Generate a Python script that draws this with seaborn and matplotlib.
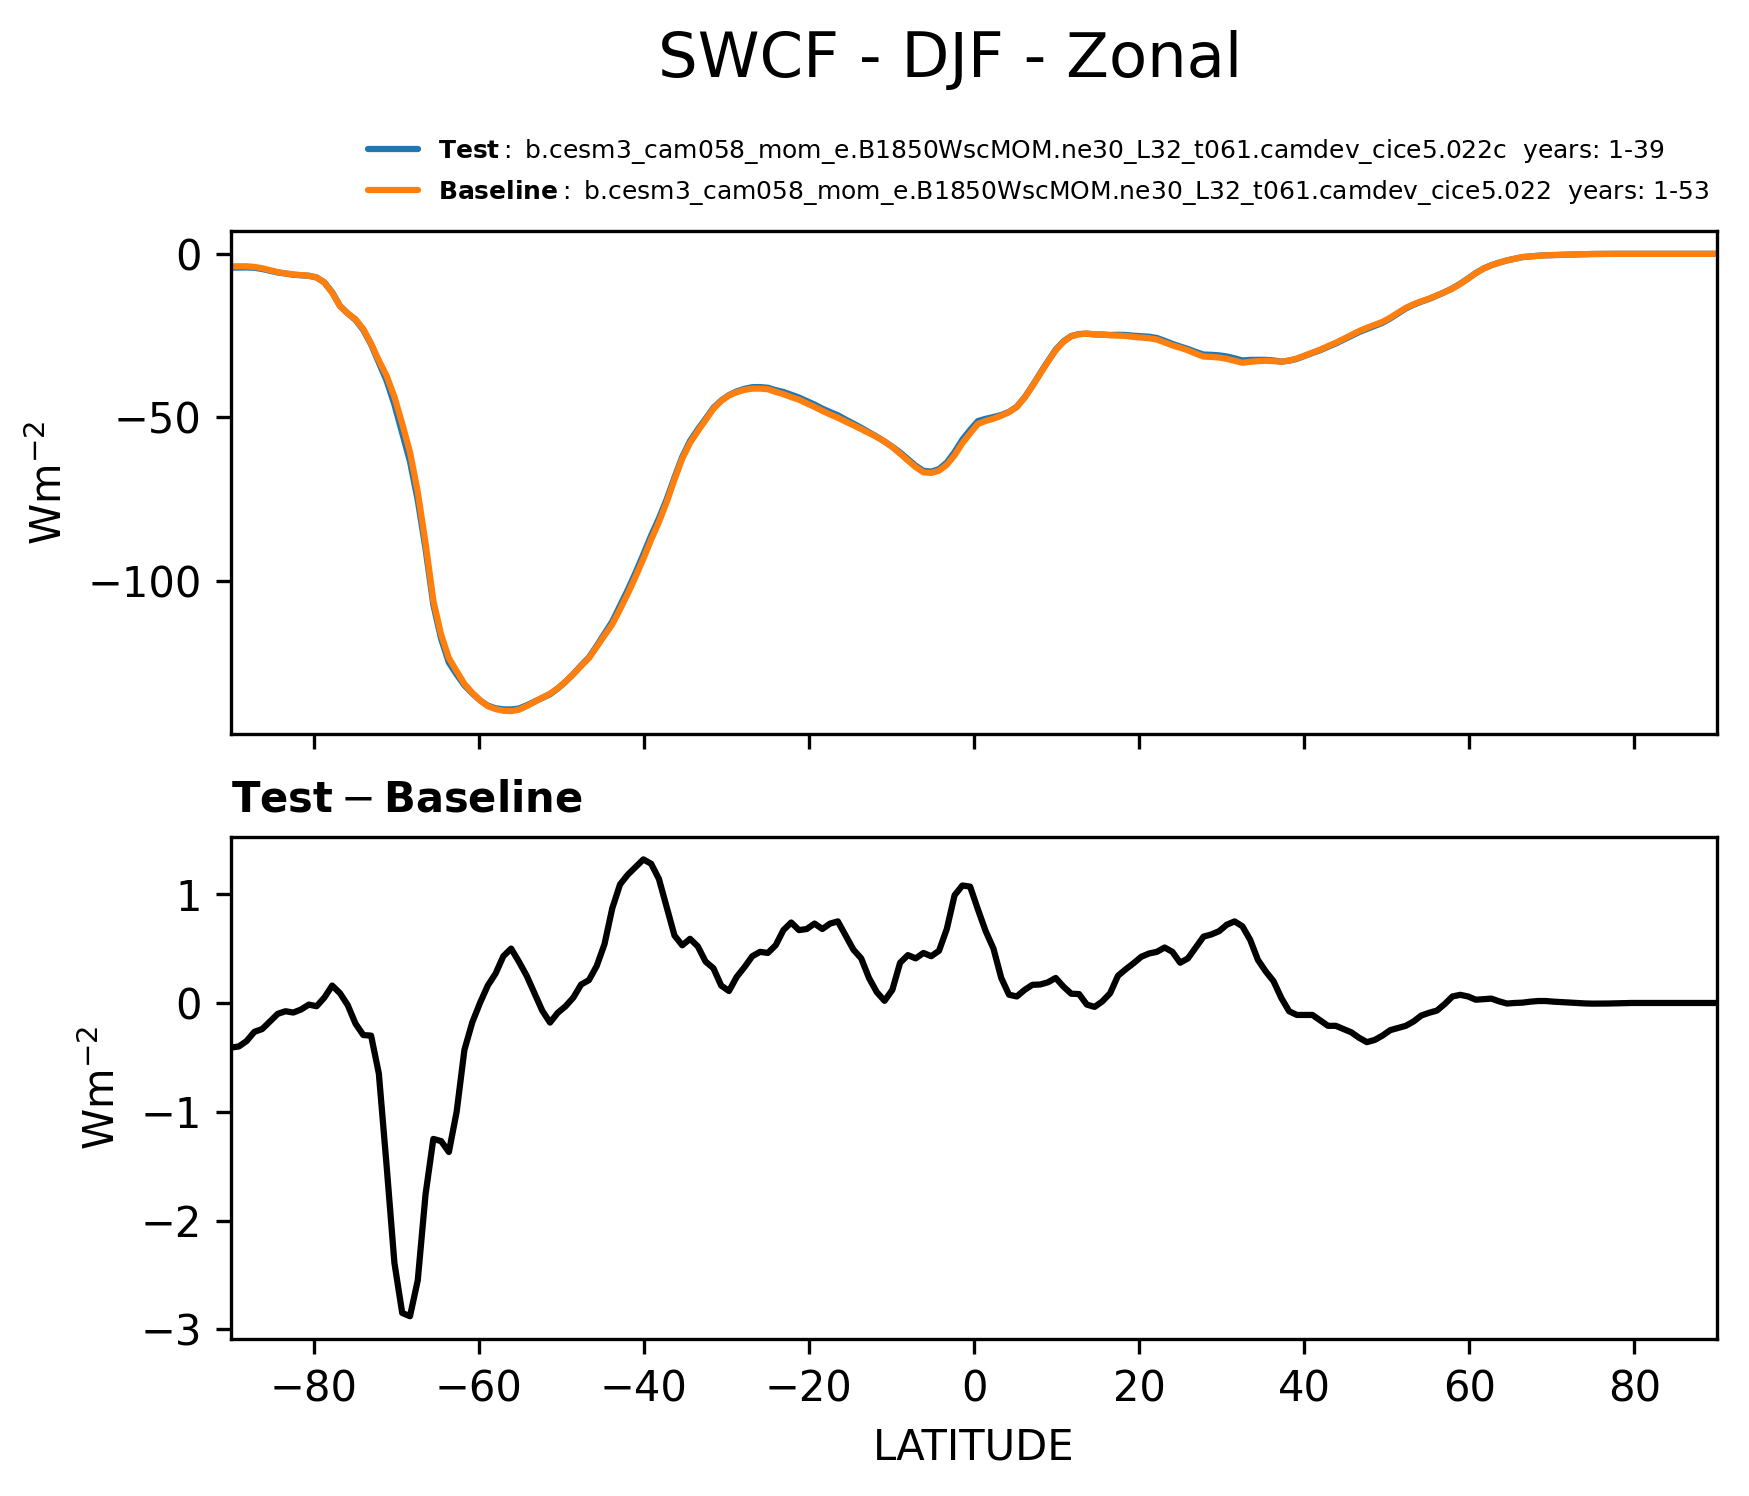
import numpy as np
import matplotlib
matplotlib.use("Agg")
import matplotlib.pyplot as plt
import seaborn as sns

# latitude grid of the zonal means (192 points pole to pole)
lat = np.linspace(-90, 90, 192)

# baseline SWCF zonal mean (W m-2)
base_vals = [
    -3.8, -3.8, -3.8, -4.0, -4.4, -5.0, -5.6, -5.95, -6.3, -6.5,
    -6.7, -7.2, -8.8, -11.9, -16.0, -18.2, -20.0, -23.0, -27.4, -32.6,
    -37.3, -43.7, -51.9, -60.6, -72.8, -88.4, -106.0, -116.4, -123.6, -127.6,
    -131.5, -134.2, -136.5, -138.3, -139.2, -139.7, -139.8, -139.4, -138.3, -137.0,
    -135.7, -134.5, -132.8, -130.8, -128.5, -126.0, -123.6, -120.2, -116.7, -113.3,
    -108.7, -103.9, -98.7, -93.2, -87.4, -82.0, -75.9, -69.0, -62.6, -57.8,
    -54.2, -50.8, -47.4, -45.0, -43.3, -42.3, -41.6, -41.2, -41.2, -41.4,
    -42.2, -42.9, -43.8, -44.6, -45.7, -46.8, -48.0, -49.1, -50.1, -51.3,
    -52.4, -53.6, -54.8, -56.0, -57.4, -59.1, -61.1, -63.2, -65.2, -66.8,
    -67.0, -66.3, -64.5, -61.6, -57.9, -54.9, -52.0, -51.1, -50.4, -49.5,
    -48.4, -46.8, -44.0, -40.5, -36.7, -33.0, -29.5, -26.9, -25.2, -24.6,
    -24.4, -24.6, -24.7, -24.9, -25.0, -25.1, -25.4, -25.6, -25.8, -26.2,
    -27.1, -28.0, -28.7, -29.5, -30.5, -31.4, -31.5, -31.7, -32.1, -32.7,
    -33.3, -33.0, -32.8, -32.7, -32.8, -33.0, -32.6, -32.0, -31.1, -30.2,
    -29.3, -28.2, -27.2, -26.0, -24.8, -23.6, -22.6, -21.7, -20.8, -19.5,
    -18.0, -16.5, -15.4, -14.5, -13.7, -12.7, -11.7, -10.6, -9.2, -7.6,
    -5.9, -4.5, -3.5, -2.7, -2.0, -1.5, -1.0, -0.8, -0.6, -0.45,
    -0.38, -0.3, -0.22, -0.15, -0.08, -0.04, -0.02, -0.01, 0.0, 0.0,
    0.0, 0.0, 0.0, 0.0, 0.0, 0.0, 0.0, 0.0, 0.0, 0.0,
    0.0, 0.0,
]

# test minus baseline (W m-2)
diff_vals = [
    -0.41, -0.40, -0.35, -0.265, -0.24, -0.17, -0.10, -0.076, -0.088, -0.06,
    -0.015, -0.03, 0.05, 0.16, 0.09, -0.02, -0.19, -0.295, -0.30, -0.65,
    -1.5, -2.39, -2.85, -2.88, -2.55, -1.76, -1.25, -1.27, -1.37, -1.00,
    -0.43, -0.18, 0.0, 0.16, 0.27, 0.43, 0.50, 0.38, 0.25, 0.09,
    -0.07, -0.18, -0.09, -0.03, 0.05, 0.17, 0.21, 0.34, 0.54, 0.87,
    1.09, 1.18, 1.25, 1.32, 1.28, 1.14, 0.88, 0.62, 0.53, 0.59,
    0.52, 0.38, 0.32, 0.16, 0.11, 0.24, 0.33, 0.43, 0.47, 0.46,
    0.53, 0.67, 0.74, 0.67, 0.68, 0.73, 0.68, 0.73, 0.75, 0.62,
    0.49, 0.41, 0.23, 0.10, 0.02, 0.12, 0.37, 0.44, 0.41, 0.46,
    0.43, 0.48, 0.68, 0.99, 1.08, 1.07, 0.86, 0.66, 0.50, 0.23,
    0.076, 0.06, 0.12, 0.167, 0.17, 0.19, 0.23, 0.15, 0.085, 0.082,
    -0.015, -0.036, 0.015, 0.09, 0.25, 0.31, 0.365, 0.425, 0.455, 0.47,
    0.51, 0.47, 0.37, 0.41, 0.51, 0.61, 0.63, 0.66, 0.72, 0.75,
    0.705, 0.58, 0.395, 0.29, 0.20, 0.046, -0.076, -0.11, -0.11, -0.11,
    -0.16, -0.21, -0.21, -0.24, -0.27, -0.32, -0.36, -0.34, -0.30, -0.25,
    -0.23, -0.21, -0.17, -0.115, -0.09, -0.07, -0.01, 0.06, 0.075, 0.06,
    0.03, 0.035, 0.04, 0.015, -0.005, 0.0, 0.003, 0.012, 0.018, 0.018,
    0.012, 0.008, 0.004, 0.0, -0.004, -0.006, -0.006, -0.005, -0.003, -0.001,
    0.0, 0.0, 0.0, 0.0, 0.0, 0.0, 0.0, 0.0, 0.0, 0.0,
    0.0, 0.0,
]

test_vals = np.array(base_vals) + np.array(diff_vals)

test_case = "b.cesm3_cam058_mom_e.B1850WscMOM.ne30_L32_t061.camdev_cice5.022c"
base_case = "b.cesm3_cam058_mom_e.B1850WscMOM.ne30_L32_t061.camdev_cice5.022"
test_years = "1-39"
base_years = "1-53"

sns.set_style("ticks", {"axes.edgecolor": "black", "xtick.color": "black",
                        "ytick.color": "black", "text.color": "black",
                        "axes.labelcolor": "black"})
plt.rcParams["font.family"] = ["DejaVu Sans"]

fig = plt.figure(figsize=(1749 / 300, 1496 / 300), dpi=300)
ax1 = fig.add_axes([0.1321, 0.5094, 0.8496, 0.3362])
ax2 = fig.add_axes([0.1321, 0.1049, 0.8496, 0.3359], sharex=ax1)

sns.lineplot(x=lat, y=test_vals, ax=ax1, color="#1f77b4", lw=1.5,
             label=r"$\mathbf{Test}:$ " + test_case + "  years: " + test_years)
sns.lineplot(x=lat, y=base_vals, ax=ax1, color="#ff7f0e", lw=1.5,
             label=r"$\mathbf{Baseline}:$ " + base_case + "  years: " + base_years)
sns.lineplot(x=lat, y=diff_vals, ax=ax2, color="black", lw=1.5)

handles, labels = ax1.get_legend_handles_labels()
ax1.get_legend().remove()
fig.legend(handles, labels, loc="upper left", bbox_to_anchor=(0.1978, 0.9237),
           frameon=False, fontsize=6)

ax1.set_xlim(-90, 90)
ax1.set_xticks(range(-80, 81, 20))
ax1.tick_params(labelbottom=False)
ax1.set_yticks([-100, -50, 0])
ax1.set_ylabel("Wm$^{-2}$")

ax2.set_yticks([-3, -2, -1, 0, 1])
ax2.set_ylabel("Wm$^{-2}$")
ax2.set_xlabel("LATITUDE")
ax2.set_title(r"$\mathbf{Test} - \mathbf{Baseline}$", loc="left", fontsize=10)

fig.suptitle("SWCF - DJF - Zonal", fontsize=15, x=0.543, y=0.96, va="center")

fig.savefig("out.png", dpi=300)
